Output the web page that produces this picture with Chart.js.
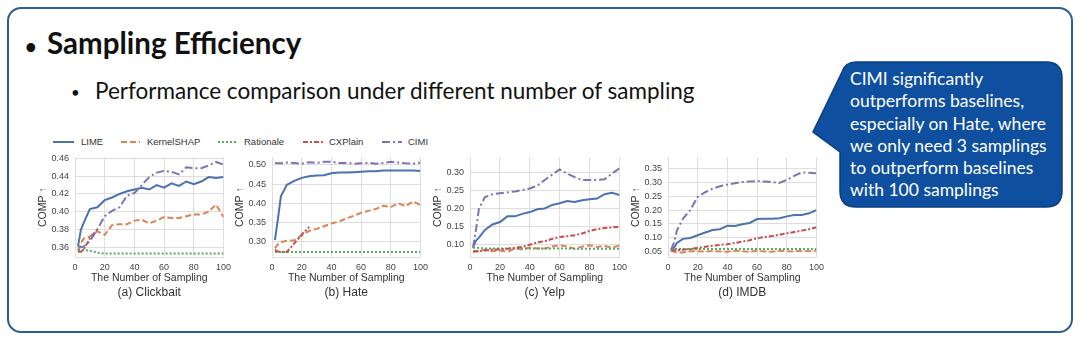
<!DOCTYPE html>
<html>
<head>
<meta charset="utf-8">
<script src="https://cdn.jsdelivr.net/npm/chart.js@4.4.0/dist/chart.umd.min.js"></script>
<style>
html, body { margin: 0; padding: 0; background: #fff; }
body { width: 1080px; height: 338px; position: relative; overflow: hidden; font-family: Lato, "Noto Sans", sans-serif; }
#frame { position: absolute; left: 7px; top: 7px; width: 1062px; height: 322px; border: 2px solid #2d5e9a; border-radius: 14px; }
.t { position: absolute; white-space: nowrap; color: #111; }
.lg { position: absolute; top: 136px; font: 9.5px "Liberation Sans", Arial, sans-serif; color: #333; line-height: 12px; white-space: nowrap; }
canvas { position: absolute; }
#shapes { position: absolute; left: 0; top: 0; }
#bubbleText { position: absolute; left: 850px; top: 68px; color: #fff; font-size: 17.5px; line-height: 22.3px; white-space: nowrap; }
</style>
</head>
<body>
<div id="frame"></div>

<div class="t" style="left:25px;top:31px;font-size:20px;font-weight:bold;line-height:30px;">•</div>
<div class="t" style="left:47px;top:25px;font-size:29.5px;font-weight:bold;line-height:36px;">Sampling Efficiency</div>
<div class="t" style="left:71px;top:80px;font-size:15px;line-height:24px;">•</div>
<div class="t" style="left:95px;top:77.5px;font-size:22.5px;line-height:26px;">Performance comparison under different number of sampling</div>

<svg id="shapes" width="1080" height="338">
  <path d="M 856 62 H 1046 Q 1062 62 1062 78 V 191 Q 1062 207 1046 207 H 856 Q 840 207 840 191 V 152 L 813 132 L 842 72 Q 845 62 856 62 Z"
        fill="#0f4f9f" stroke="#0b3f80" stroke-width="1.5"/>
  <g stroke-width="2" fill="none">
    <line x1="53" y1="142" x2="74" y2="142" stroke="#4c72b0"/>
    <line x1="121" y1="142" x2="140" y2="142" stroke="#dd8452" stroke-dasharray="6 3"/>
    <line x1="218" y1="142" x2="238" y2="142" stroke="#55a868" stroke-dasharray="2 2"/>
    <line x1="303" y1="142" x2="323" y2="142" stroke="#c44e52" stroke-dasharray="5 2 2 2"/>
    <line x1="382" y1="142" x2="402" y2="142" stroke="#8172b3" stroke-dasharray="8 3 2 3"/>
  </g>
</svg>

<div class="lg" style="left:81px;">LIME</div>
<div class="lg" style="left:147px;">KernelSHAP</div>
<div class="lg" style="left:244px;">Rationale</div>
<div class="lg" style="left:329px;">CXPlain</div>
<div class="lg" style="left:408px;">CIMI</div>

<div id="bubbleText">CIMI significantly<br>outperforms baselines,<br>especially on Hate, where<br>we only need 3 samplings<br>to outperform baselines<br>with 100 samplings</div>

<canvas id="chartA" width="206" height="154" style="left:30px;top:146px;"></canvas>
<canvas id="chartB" width="206" height="154" style="left:227px;top:146px;"></canvas>
<canvas id="chartC" width="207" height="154" style="left:425px;top:146px;"></canvas>
<canvas id="chartD" width="206" height="154" style="left:623px;top:146px;"></canvas>

<script>
// number of samplings on the x axis
const samplingSteps = [2, 4, 6, 10, 15, 20, 25, 30, 35, 40, 45, 50, 55, 60, 65, 70, 75, 80, 85, 90, 95, 100];

const seriesNames = ['LIME', 'KernelSHAP', 'Rationale', 'CXPlain', 'CIMI'];
const seriesColors = ['#4c72b0', '#dd8452', '#55a868', '#c44e52', '#8172b3'];
const seriesDashes = [[], [6, 3], [2, 2], [5, 2, 2, 2], [8, 3, 2, 3]];

// (a) Clickbait
const limeA = [0.361, 0.380, 0.388, 0.403, 0.405, 0.413, 0.416, 0.420, 0.423, 0.425, 0.427, 0.425, 0.430, 0.427, 0.432, 0.429, 0.434, 0.431, 0.434, 0.439, 0.438, 0.439];
const kernelA = [0.356, 0.365, 0.370, 0.372, 0.378, 0.374, 0.385, 0.386, 0.386, 0.390, 0.391, 0.387, 0.390, 0.394, 0.393, 0.393, 0.395, 0.397, 0.397, 0.400, 0.408, 0.394];
const rationaleA = [0.357, 0.357, 0.357, 0.356, 0.354, 0.353, 0.353, 0.353, 0.353, 0.353, 0.353, 0.353, 0.353, 0.353, 0.353, 0.353, 0.353, 0.353, 0.353, 0.353, 0.353, 0.353];
const cxplainA = [0.355, 0.355, 0.358, 0.370, 0.380];
const cimiA = [0.360, 0.360, 0.361, 0.367, 0.380, 0.395, 0.401, 0.405, 0.418, 0.421, 0.430, 0.439, 0.444, 0.446, 0.445, 0.442, 0.450, 0.449, 0.449, 0.452, 0.456, 0.453];

// (b) Hate
const limeB = [0.304, 0.360, 0.418, 0.448, 0.458, 0.466, 0.470, 0.472, 0.473, 0.478, 0.480, 0.480, 0.481, 0.482, 0.483, 0.483, 0.485, 0.485, 0.485, 0.485, 0.485, 0.484];
const kernelB = [0.282, 0.293, 0.299, 0.302, 0.303, 0.316, 0.328, 0.333, 0.340, 0.347, 0.352, 0.360, 0.367, 0.375, 0.380, 0.385, 0.393, 0.390, 0.400, 0.392, 0.405, 0.395];
const rationaleB = [0.273, 0.273, 0.273, 0.273, 0.273, 0.273, 0.273, 0.273, 0.273, 0.273, 0.273, 0.273, 0.273, 0.273, 0.273, 0.273, 0.273, 0.273, 0.273, 0.273, 0.273, 0.273];
const cxplainB = [0.278, 0.274, 0.273, 0.273, 0.295, 0.318, 0.338];
const cimiB = [0.505, 0.504, 0.504, 0.506, 0.505, 0.503, 0.507, 0.505, 0.508, 0.508, 0.505, 0.505, 0.503, 0.504, 0.505, 0.503, 0.505, 0.508, 0.506, 0.504, 0.503, 0.506];

// (c) Yelp
const limeC = [0.090, 0.110, 0.118, 0.140, 0.155, 0.162, 0.178, 0.178, 0.185, 0.190, 0.198, 0.200, 0.210, 0.215, 0.221, 0.218, 0.223, 0.226, 0.228, 0.240, 0.244, 0.238];
const kernelC = [0.078, 0.080, 0.080, 0.085, 0.080, 0.082, 0.078, 0.088, 0.085, 0.090, 0.088, 0.088, 0.093, 0.097, 0.093, 0.087, 0.093, 0.097, 0.092, 0.095, 0.090, 0.096];
const rationaleC = [0.090, 0.090, 0.089, 0.088, 0.088, 0.088, 0.088, 0.088, 0.088, 0.088, 0.088, 0.088, 0.088, 0.088, 0.088, 0.087, 0.087, 0.087, 0.087, 0.087, 0.087, 0.087];
const cxplainC = [0.080, 0.080, 0.080, 0.082, 0.085, 0.085, 0.087, 0.090, 0.092, 0.098, 0.105, 0.108, 0.115, 0.120, 0.122, 0.125, 0.130, 0.137, 0.142, 0.145, 0.147, 0.148];
const cimiC = [0.090, 0.140, 0.200, 0.232, 0.240, 0.243, 0.245, 0.248, 0.252, 0.256, 0.264, 0.280, 0.295, 0.310, 0.298, 0.288, 0.280, 0.280, 0.280, 0.282, 0.298, 0.313];

// (d) IMDB
const limeD = [0.055, 0.062, 0.080, 0.095, 0.098, 0.108, 0.118, 0.127, 0.130, 0.143, 0.142, 0.148, 0.153, 0.167, 0.168, 0.168, 0.170, 0.177, 0.182, 0.182, 0.188, 0.200];
const kernelD = [0.052, 0.048, 0.046, 0.045, 0.050, 0.050, 0.048, 0.051, 0.049, 0.048, 0.052, 0.050, 0.048, 0.052, 0.049, 0.048, 0.052, 0.050, 0.049, 0.052, 0.050, 0.053];
const rationaleD = [0.057, 0.058, 0.058, 0.058, 0.058, 0.058, 0.058, 0.058, 0.058, 0.058, 0.058, 0.058, 0.058, 0.058, 0.058, 0.058, 0.058, 0.058, 0.058, 0.058, 0.058, 0.058];
const cxplainD = [0.053, 0.053, 0.054, 0.055, 0.058, 0.062, 0.066, 0.070, 0.073, 0.075, 0.080, 0.085, 0.090, 0.097, 0.102, 0.105, 0.110, 0.115, 0.120, 0.125, 0.130, 0.137];
const cimiD = [0.055, 0.080, 0.125, 0.168, 0.200, 0.248, 0.265, 0.278, 0.287, 0.293, 0.298, 0.302, 0.304, 0.306, 0.304, 0.302, 0.299, 0.310, 0.325, 0.337, 0.336, 0.334];

// y tick labels per panel
const yTicksA = [0.36, 0.38, 0.40, 0.42, 0.44, 0.46];
const yTicksB = [0.30, 0.35, 0.40, 0.45, 0.50];
const yTicksC = [0.10, 0.15, 0.20, 0.25, 0.30];
const yTicksD = [0.05, 0.10, 0.15, 0.20, 0.25, 0.30, 0.35];

const xTitle = 'The Number of Sampling';
const yTitle = 'COMP \u2191';

const tickColor = '#444';
const gridColor = '#dedede';
const fontFamily = '"Liberation Sans", Arial, sans-serif';

function makePanel(canvasId, caption, series, yMin, yMax, yTicks) {
    const datasets = series.map((values, i) => ({
        label: seriesNames[i],
        data: values.map((v, k) => ({x: samplingSteps[k], y: v})),
        borderColor: seriesColors[i],
        borderDash: seriesDashes[i],
        borderWidth: 2,
        pointRadius: 0,
        fill: false,
        tension: 0,
        order: seriesNames.length - 1 - i
    }));

    return new Chart(document.getElementById(canvasId), {
        type: 'line',
        data: {datasets: datasets},
        options: {
            responsive: false,
            animation: false,
            devicePixelRatio: 1,
            layout: {padding: {top: 8, right: 10, left: 0, bottom: 0}},
            plugins: {
                legend: {display: false},
                tooltip: {enabled: false},
                title: {
                    display: true,
                    position: 'bottom',
                    fullSize: false,
                    text: caption,
                    color: '#333',
                    padding: 0,
                    font: {family: fontFamily, size: 12, weight: 'normal', lineHeight: '15px'}
                }
            },
            scales: {
                x: {
                    type: 'linear',
                    min: 0,
                    max: 100,
                    ticks: {stepSize: 20, color: tickColor, padding: 5, font: {family: fontFamily, size: 9}},
                    grid: {color: gridColor, drawTicks: false, lineWidth: 1},
                    border: {color: gridColor},
                    title: {display: true, text: xTitle, color: '#333', padding: {top: 0, bottom: 1},
                            font: {family: fontFamily, size: 10.5}},
                    afterFit: (axis) => { axis.height = 28; }
                },
                y: {
                    type: 'linear',
                    min: yMin,
                    max: yMax,
                    afterBuildTicks: (axis) => { axis.ticks = yTicks.map(v => ({value: v})); },
                    ticks: {color: tickColor, padding: 6, font: {family: fontFamily, size: 9},
                            callback: (v) => v.toFixed(2)},
                    grid: {color: gridColor, drawTicks: false, lineWidth: 1},
                    border: {color: gridColor},
                    title: {display: true, text: yTitle, color: '#333', padding: {top: 7, bottom: 0},
                            font: {family: fontFamily, size: 10.5}},
                    afterFit: (axis) => { axis.width = 45; }
                }
            }
        }
    });
}

makePanel('chartA', '(a) Clickbait', [limeA, kernelA, rationaleA, cxplainA, cimiA], 0.3491, 0.4611, yTicksA);
makePanel('chartB', '(b) Hate', [limeB, kernelB, rationaleB, cxplainB, cimiB], 0.2597, 0.5194, yTicksB);
makePanel('chartC', '(c) Yelp', [limeC, kernelC, rationaleC, cxplainC, cimiC], 0.0638, 0.3435, yTicksC);
makePanel('chartD', '(d) IMDB', [limeD, kernelD, rationaleD, cxplainD, cimiD], 0.0288, 0.392, yTicksD);
</script>
</body>
</html>
